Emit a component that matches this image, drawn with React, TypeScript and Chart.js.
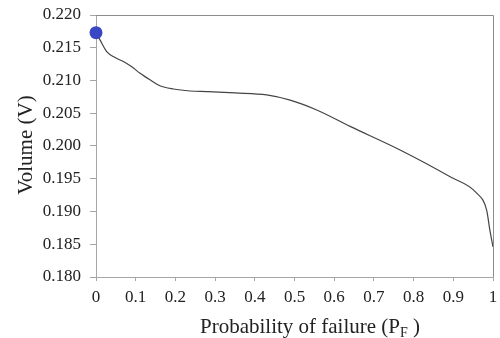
import React, { useEffect, useRef } from "react";
import { Chart, registerables } from "chart.js";

Chart.register(...registerables);

const pfValues = [0, 0.01, 0.027, 0.048, 0.069, 0.09, 0.111, 0.136, 0.161, 0.195, 0.237, 0.279, 0.35, 0.43, 0.489, 0.556, 0.64, 0.766, 0.892, 0.959, 0.984, 0.992, 1.0];
const volumeValues = [0.2173, 0.2162, 0.2144, 0.2135, 0.2129, 0.2121, 0.2111, 0.2101, 0.2092, 0.2087, 0.2084, 0.2083, 0.2081, 0.2078, 0.207, 0.2055, 0.203, 0.1994, 0.1953, 0.1928, 0.1902, 0.1872, 0.1846];
const xTitleMain = "Probability of failure (P";
const xTitleSub = "F";
const xTitleEnd = " )";
const yTitle = "Volume (V)";

const FONT = "'Liberation Serif', 'Times New Roman', serif";

export default function App() {
  const ref = useRef<HTMLCanvasElement | null>(null);
  useEffect(() => {
    document.body.style.margin = "0";
    const canvas = ref.current!;
    const titles = {
      id: "titles",
      afterDraw(chart: any) {
        const ctx = chart.ctx;
        const a = chart.chartArea;
        ctx.save();
        // frame
        ctx.strokeStyle = "#8c8c8c";
        ctx.lineWidth = 1;
        ctx.beginPath();
        ctx.moveTo(a.left, a.top + 0.5);
        ctx.lineTo(a.right + 0.5, a.top + 0.5);
        ctx.lineTo(a.right + 0.5, a.bottom);
        ctx.stroke();
        ctx.fillStyle = "#222";
        // x title
        ctx.font = `21px ${FONT}`;
        const w1 = ctx.measureText(xTitleMain).width;
        ctx.font = `14px ${FONT}`;
        const w2 = ctx.measureText(xTitleSub).width;
        ctx.font = `21px ${FONT}`;
        const w3 = ctx.measureText(xTitleEnd).width;
        const total = w1 + w2 + w3;
        const cx = 310;
        let x = cx - total / 2;
        const by = 333;
        ctx.textBaseline = "alphabetic";
        ctx.textAlign = "left";
        ctx.fillText(xTitleMain, x, by);
        x += w1;
        ctx.font = `14px ${FONT}`;
        ctx.fillText(xTitleSub, x, by + 4);
        x += w2;
        ctx.font = `21px ${FONT}`;
        ctx.fillText(xTitleEnd, x, by);
        // y title
        ctx.translate(26, 145);
        ctx.rotate(-Math.PI / 2);
        ctx.textAlign = "center";
        ctx.textBaseline = "middle";
        ctx.font = `21px ${FONT}`;
        ctx.fillText(yTitle, 0, 0);
        ctx.restore();
      },
    };
    const chart = new Chart(canvas, {
      type: "scatter",
      data: {
        datasets: [
          {
            data: pfValues.map((x, i) => ({ x, y: volumeValues[i] })),
            showLine: true,
            borderColor: "#444",
            borderWidth: 1.2,
            cubicInterpolationMode: "monotone",
            pointRadius: pfValues.map((_, i) => (i === 0 ? 6.5 : 0)),
            pointBackgroundColor: "rgb(58,70,196)",
            pointBorderColor: "rgb(58,70,196)",
            pointBorderWidth: 0,
            clip: false as any,
          } as any,
        ],
      },
      options: {
        animation: false,
        responsive: false,
        maintainAspectRatio: false,
        layout: { padding: { top: 15, right: 7, left: 0, bottom: 0 } },
        plugins: { legend: { display: false }, tooltip: { enabled: false } },
        scales: {
          x: {
            type: "linear",
            min: 0,
            max: 1,
            afterFit: (s: any) => {
              s.height = 61;
              s.paddingLeft = 0;
              s.paddingRight = 0;
            },
            ticks: {
              stepSize: 0.1,
              color: "#222",
              font: { family: FONT, size: 17 },
              padding: 6,
              maxRotation: 0,
              callback: (v: any) => String(Math.round(Number(v) * 10) / 10),
            },
            grid: { drawOnChartArea: false, tickLength: 4, color: "#a6a6a6" },
            border: { color: "#a6a6a6" },
          },
          y: {
            type: "linear",
            min: 0.18,
            max: 0.22,
            afterFit: (s: any) => {
              s.width = 96;
              s.paddingTop = 0;
              s.paddingBottom = 0;
            },
            ticks: {
              stepSize: 0.005,
              color: "#222",
              font: { family: FONT, size: 17 },
              padding: 9,
              callback: (v: any) => Number(v).toFixed(3),
            },
            grid: { drawOnChartArea: false, tickLength: 6, color: "#a6a6a6" },
            border: { color: "#a6a6a6" },
          },
        },
      },
      plugins: [titles],
    });
    return () => chart.destroy();
  }, []);
  return (
    <div style={{ width: 500, height: 338, background: "#fff" }}>
      <canvas ref={ref} width={500} height={338} style={{ display: "block" }} />
    </div>
  );
}
